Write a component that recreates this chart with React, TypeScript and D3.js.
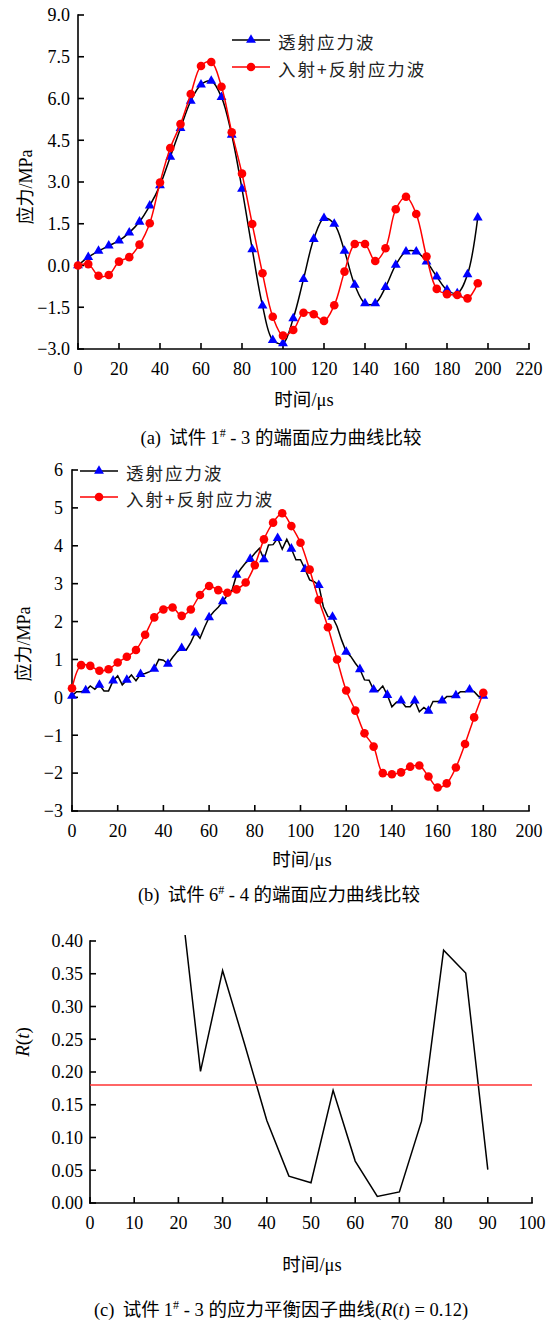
import React from "react";
import * as d3 from "d3";

// ---------- Data: panel (a) ----------
const timeA = [0,5,10,15,20,25,30,35,40,45,50,55,60,65,70,75,80,85,90,95,100,105,110,115,120,125,130,135,140,145,150,155,160,165,170,175,180,185,190,195];
const transA = [0.0,0.3,0.52,0.71,0.89,1.18,1.57,2.15,2.88,3.9,4.93,5.91,6.5,6.63,6.05,4.69,2.75,0.58,-1.44,-2.68,-2.8,-1.9,-0.49,0.95,1.7,1.49,0.52,-0.7,-1.36,-1.36,-0.78,0.02,0.5,0.5,0.14,-0.4,-0.88,-1.0,-0.32,1.72];
const incRefA = [0.0,0.05,-0.37,-0.34,0.14,0.3,0.75,1.52,2.98,4.22,5.08,6.16,7.17,7.31,6.42,4.79,3.3,1.49,-0.28,-1.84,-2.52,-2.32,-1.7,-1.75,-1.99,-1.43,-0.22,0.77,0.77,0.16,0.62,2.02,2.47,1.85,0.32,-0.84,-1.03,-1.06,-1.18,-0.64];
const xTicksA = [0,20,40,60,80,100,120,140,160,180,200,220];
const yTicksA = [-3,-1.5,0,1.5,3,4.5,6,7.5,9];

// ---------- Data: panel (b) ----------
const timeBTrans = [0,2,4,6,8,10,12,14,16,18,20,22,24,26,28,30,32,34,36,38,40,42,44,46,48,50,52,54,56,58,60,62,64,66,68,70,72,74,76,78,80,82,84,86,88,90,92,94,96,98,100,102,104,106,108,110,112,114,116,118,120,122,124,126,128,130,132,134,136,138,140,142,144,146,148,150,152,154,156,158,160,162,164,166,168,170,172,174,176,178,180];
const transB = [0.04,0.15,0.15,0.18,0.30,0.21,0.33,0.17,0.17,0.44,
  0.57,0.33,0.46,0.59,0.44,0.61,0.63,0.68,0.75,1.00,
  0.98,0.88,1.05,1.20,1.30,1.25,1.45,1.71,1.56,1.85,
  2.11,2.26,2.38,2.53,2.70,2.82,3.23,3.40,3.55,3.65,
  3.80,3.93,3.64,4.02,4.03,4.20,3.91,4.17,3.92,3.63,
  3.63,3.38,3.10,3.05,2.96,2.39,2.13,2.12,1.87,1.51,
  1.20,1.08,0.90,0.74,0.46,0.45,0.20,0.17,0.30,0.06,
  -0.25,-0.13,-0.09,-0.25,-0.25,-0.09,-0.38,-0.27,-0.36,-0.11,
  -0.11,-0.09,0.02,0.02,0.05,0.15,0.15,0.20,0.15,0.02,
  0.04];
const timeBInc = [0,4,8,12,16,20,24,28,32,36,40,44,48,52,56,60,64,68,72,76,80,84,88,92,96,100,104,108,112,116,120,124,128,132,136,140,144,148,152,156,160,164,168,172,176,180];
const incRefB = [0.24,0.85,0.83,0.70,0.74,0.92,1.07,1.25,1.65,2.11,2.32,2.37,2.15,2.32,2.70,2.94,2.83,2.76,2.85,3.03,3.49,4.17,4.61,4.86,4.52,4.08,3.37,2.57,1.85,1.0,0.18,-0.35,-0.95,-1.30,-2.0,-2.03,-1.98,-1.83,-1.80,-2.09,-2.38,-2.27,-1.85,-1.23,-0.53,0.12];
const xTicksB = [0,20,40,60,80,100,120,140,160,180,200];
const yTicksB = [-3,-2,-1,0,1,2,3,4,5,6];

// ---------- Data: panel (c) ----------
const timeC = [20,25,30,35,40,45,50,55,60,65,70,75,80,85,90];
const ratioC = [0.50,0.201,0.355,0.242,0.126,0.041,0.031,0.172,0.064,0.010,0.017,0.125,0.386,0.351,0.051];
const thresholdC = 0.18;
const xTicksC = [0,10,20,30,40,50,60,70,80,90,100];
const yTicksC = [0,0.05,0.1,0.15,0.2,0.25,0.3,0.35,0.4];

const legendNames = ["透射应力波", "入射+反射应力波"];

const SERIF = "'Liberation Serif', 'Times New Roman', 'Noto Sans CJK SC', serif";
const CJK = "'Noto Sans CJK SC', sans-serif";
const TICK_FS = 18;
const AXIS_W = 1.6;

type Scale = d3.ScaleLinear<number, number>;

function Axes({ x, y, xTicks, yTicks, fx, fy, labelGapX, labelGapY }: any) {
  const [x0, x1] = x.range();
  const [y0, y1] = y.range();
  return (
    <g fontFamily={SERIF} fontSize={TICK_FS} fill="#000">
      <line x1={x0} x2={x1} y1={y0} y2={y0} stroke="#000" strokeWidth={AXIS_W} strokeLinecap="square" />
      <line x1={x0} x2={x0} y1={y0} y2={y1} stroke="#000" strokeWidth={AXIS_W} strokeLinecap="square" />
      {xTicks.map((t: number) => (
        <g key={"x" + t}>
          <line x1={x(t)} x2={x(t)} y1={y0} y2={y0 - 6} stroke="#000" strokeWidth={AXIS_W} />
          <text x={x(t)} y={y0 + labelGapX} textAnchor="middle">{fx(t)}</text>
        </g>
      ))}
      {yTicks.map((t: number) => (
        <g key={"y" + t}>
          <line x1={x0} x2={x0 + 6} y1={y(t)} y2={y(t)} stroke="#000" strokeWidth={AXIS_W} />
          <text x={x0 - labelGapY} y={y(t)} dy="0.35em" textAnchor="end">{fy(t)}</text>
        </g>
      ))}
    </g>
  );
}

function Tri({ cx, cy, size = 42 }: any) {
  const p = d3.symbol(d3.symbolTriangle, size)();
  return <path d={p as string} transform={`translate(${cx},${cy})`} fill="#0000ff" />;
}

function Legend({ x, y, gap }: any) {
  const fs = 17.5;
  return (
    <g>
      <line x1={x} x2={x + 38} y1={y} y2={y} stroke="#000" strokeWidth={1.5} />
      <Tri cx={x + 19} cy={y} />
      <text x={x + 46} y={y + 3} dy="0.35em" fontFamily={CJK} fontSize={fs} letterSpacing={2} fill="#222">{legendNames[0]}</text>
      <line x1={x} x2={x + 38} y1={y + gap} y2={y + gap} stroke="#ff0000" strokeWidth={1.5} />
      <circle cx={x + 19} cy={y + gap} r={4.3} fill="#ff0000" />
      <text x={x + 46} y={y + gap + 3} dy="0.35em" fontFamily={CJK} fontSize={fs} letterSpacing={2} fill="#222">{legendNames[1]}</text>
    </g>
  );
}

function YLabel({ cx, cy }: any) {
  return (
    <text transform={`translate(${cx},${cy}) rotate(-90)`} textAnchor="middle" dy="0.35em" fontFamily={SERIF} fontSize={18}>
      <tspan fontFamily={CJK}>应力</tspan>/MPa
    </text>
  );
}

function XLabel({ cx, cy }: any) {
  return (
    <text x={cx} y={cy} textAnchor="middle" dy="0.35em" fontFamily={SERIF} fontSize={18.5}>
      <tspan fontFamily={CJK}>时间</tspan>/μs
    </text>
  );
}

function Caption({ cx, cy, tag, num, sub, rest }: any) {
  return (
    <text x={cx} y={cy} textAnchor="middle" dy="0.35em" fontFamily={SERIF} fontSize={18.5} style={{ whiteSpace: "pre" }}>
      {tag}
      <tspan fontFamily={CJK}>{"  试件 "}</tspan>
      {num}
      <tspan fontSize={12} dy="-7">#</tspan>
      <tspan dy="7">{" - " + sub + " "}</tspan>
      {rest}
    </text>
  );
}

export default function App() {
  // panel (a)
  const xA: Scale = d3.scaleLinear().domain([0, 220]).range([78, 529]);
  const yA: Scale = d3.scaleLinear().domain([-3, 9]).range([349, 15]);
  const lineA = (vals: number[]) =>
    d3.line<number>().x((_, i) => xA(timeA[i])).y((v) => yA(v)).curve(d3.curveCatmullRom.alpha(0.5))(vals) as string;

  // panel (b)
  const xB: Scale = d3.scaleLinear().domain([0, 200]).range([72, 529]);
  const yB: Scale = d3.scaleLinear().domain([-3, 6]).range([811, 470]);
  const lineBT = d3.line<number>().x((_, i) => xB(timeBTrans[i])).y((v) => yB(v))(transB) as string;
  const lineBI = d3.line<number>().x((_, i) => xB(timeBInc[i])).y((v) => yB(v)).curve(d3.curveCatmullRom.alpha(0.5))(incRefB) as string;

  // panel (c)
  const xC: Scale = d3.scaleLinear().domain([0, 100]).range([90, 532]);
  const yC: Scale = d3.scaleLinear().domain([0, 0.4]).range([1203, 941]);
  const lineC = d3.line<number>().x((_, i) => xC(timeC[i])).y((v) => yC(v))(ratioC) as string;

  const f1 = d3.format(".1f");
  const f0 = d3.format("d");
  const f2 = d3.format(".2f");

  return (
    <svg width={555} height={1324} style={{ position: "absolute", left: 0, top: 0, background: "#fff" }}>
      <defs>
        <clipPath id="clipC">
          <rect x={90} y={yC(0.409)} width={445} height={1203 - yC(0.409) + 2} />
        </clipPath>
      </defs>
      <rect width={555} height={1324} fill="#fff" />

      {/* ---------- (a) ---------- */}
      <Axes x={xA} y={yA} xTicks={xTicksA} yTicks={yTicksA} fx={f0} fy={f1} labelGapX={26} labelGapY={8} />
      <path d={lineA(transA)} fill="none" stroke="#000" strokeWidth={1.5} />
      {transA.map((v, i) => <Tri key={"ta" + i} cx={xA(timeA[i])} cy={yA(v)} />)}
      <path d={lineA(incRefA)} fill="none" stroke="#ff0000" strokeWidth={1.5} />
      {incRefA.map((v, i) => <circle key={"ia" + i} cx={xA(timeA[i])} cy={yA(v)} r={4.3} fill="#ff0000" />)}
      <Legend x={232} y={40} gap={27} />
      <YLabel cx={26} cy={187} />
      <XLabel cx={304} cy={400} />
      <Caption cx={281} cy={438} tag="(a)" num="1" sub="3" rest={<tspan fontFamily={CJK}>的端面应力曲线比较</tspan>} />

      {/* ---------- (b) ---------- */}
      <Axes x={xB} y={yB} xTicks={xTicksB} yTicks={yTicksB} fx={f0} fy={f0} labelGapX={26} labelGapY={9} />
      <path d={lineBT} fill="none" stroke="#000" strokeWidth={1.5} />
      {transB.map((v, i) => (timeBTrans[i] % 6 === 0 ? <Tri key={"tb" + i} cx={xB(timeBTrans[i])} cy={yB(v)} /> : null))}
      <path d={lineBI} fill="none" stroke="#ff0000" strokeWidth={1.5} />
      {incRefB.map((v, i) => <circle key={"ib" + i} cx={xB(timeBInc[i])} cy={yB(v)} r={4.3} fill="#ff0000" />)}
      <Legend x={80} y={471} gap={26} />
      <YLabel cx={24} cy={644} />
      <XLabel cx={302} cy={860} />
      <Caption cx={279} cy={895} tag="(b)" num="6" sub="4" rest={<tspan fontFamily={CJK}>的端面应力曲线比较</tspan>} />

      {/* ---------- (c) ---------- */}
      <Axes x={xC} y={yC} xTicks={xTicksC} yTicks={yTicksC} fx={f0} fy={f2} labelGapX={26} labelGapY={7} />
      <path d={lineC} fill="none" stroke="#000" strokeWidth={1.5} clipPath="url(#clipC)" />
      <line x1={xC(0)} x2={xC(100)} y1={yC(thresholdC)} y2={yC(thresholdC)} stroke="#ff3333" strokeWidth={1.5} />
      <text transform={`translate(22,1042) rotate(-90)`} textAnchor="middle" dy="0.35em" fontFamily={SERIF} fontSize={19}>
        <tspan fontStyle="italic">R</tspan>(<tspan fontStyle="italic">t</tspan>)
      </text>
      <XLabel cx={312} cy={1265} />
      <Caption cx={281} cy={1310} tag="(c)" num="1" sub="3"
        rest={<>
          <tspan fontFamily={CJK}>的应力平衡因子曲线</tspan>
          (<tspan fontStyle="italic">R</tspan>(<tspan fontStyle="italic">t</tspan>) = 0.12)
        </>} />
    </svg>
  );
}
